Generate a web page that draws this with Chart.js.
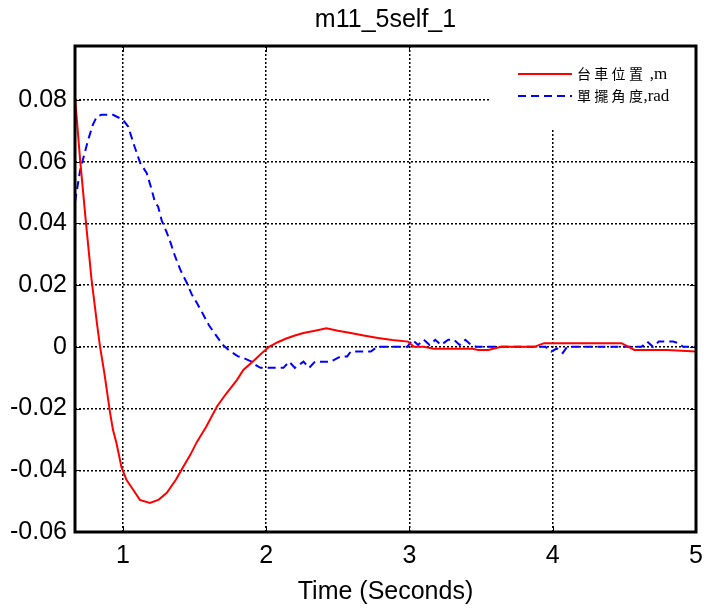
<!DOCTYPE html>
<html>
<head>
<meta charset="utf-8">
<script src="https://cdn.jsdelivr.net/npm/chart.js@4/dist/chart.umd.min.js"></script>
<style>
  html, body { margin: 0; padding: 0; background: #fff; }
  canvas { display: block; }
</style>
</head>
<body>
<canvas id="c" width="704" height="610"></canvas>
<script>
// ---- Data ----
const chartTitle = 'm11_5self_1';
const xAxisTitle = 'Time (Seconds)';
const seriesNames = ['台車位置 ,m', '單擺角度,rad'];

const xTicks = [1, 2, 3, 4, 5];
const yTicks = [-0.06, -0.04, -0.02, 0, 0.02, 0.04, 0.06, 0.08];
const yTickLabels = ['-0.06', '-0.04', '-0.02', '0', '0.02', '0.04', '0.06', '0.08'];

const timeRed = [0.665,0.70,0.74,0.78,0.82,0.84,0.87,0.91,0.93,0.954,0.989,1.024,1.071,1.118,1.188,1.25,1.306,1.37,1.42,1.47,1.516,1.58,1.656,1.72,1.796,1.84,1.92,1.97,2.02,2.08,2.14,2.20,2.26,2.34,2.42,2.50,2.59,2.68,2.78,2.88,2.99,3.03,3.10,3.17,3.30,3.44,3.48,3.55,3.64,3.87,3.94,4.10,4.30,4.48,4.57,4.80,5.00];
const cartPosition = [0.081,0.061,0.041,0.022,0.007,0.0,-0.0085,-0.0214,-0.0269,-0.0311,-0.0389,-0.0431,-0.0463,-0.0496,-0.0506,-0.0495,-0.0473,-0.043,-0.0389,-0.035,-0.0308,-0.026,-0.0193,-0.0152,-0.0107,-0.0075,-0.0042,-0.002,0.0,0.0015,0.0027,0.0037,0.0045,0.0052,0.0060,0.0052,0.0045,0.0037,0.0029,0.0022,0.0017,0.0,0.0,-0.0006,-0.0006,-0.0006,-0.001,-0.001,0.0,0.0,0.0012,0.0012,0.0012,0.0012,-0.001,-0.001,-0.0015];

const timeBlue = [0.665,0.70,0.72,0.756,0.79,0.817,0.85,0.93,1.0,1.036,1.08,1.12,1.166,1.20,1.224,1.245,1.27,1.306,1.33,1.364,1.40,1.446,1.48,1.516,1.56,1.60,1.656,1.70,1.75,1.80,1.84,1.87,1.90,1.93,1.96,2.12,2.16,2.20,2.26,2.30,2.34,2.45,2.52,2.565,2.59,2.73,2.775,2.985,3.02,3.06,3.10,3.14,3.18,3.22,3.27,3.31,3.35,3.39,3.43,3.47,3.50,3.95,3.99,4.03,4.07,4.10,4.62,4.66,4.70,4.74,4.78,4.84,4.88,4.91,5.0];
const pendulumAngle = [0.047,0.057,0.0606,0.067,0.072,0.0746,0.0752,0.0752,0.0736,0.0714,0.065,0.0596,0.0563,0.051,0.0467,0.0455,0.041,0.037,0.034,0.0293,0.025,0.0207,0.017,0.0142,0.0105,0.007,0.0033,0.0005,-0.0015,-0.003,-0.0036,-0.0042,-0.0048,-0.006,-0.0068,-0.0068,-0.0048,-0.0068,-0.0048,-0.0068,-0.0048,-0.0048,-0.0031,-0.0031,-0.0015,-0.0015,0.0,0.0,0.0023,0.0006,0.0023,0.0006,0.0023,0.0006,0.0023,0.0023,0.0006,0.0023,0.0006,0.0,0.0,0.0,-0.0015,-0.0005,-0.002,0.0,0.0,0.0017,0.0,0.0017,0.0017,0.0017,0.0012,0.0,0.0];

const xMin = 0.665, xMax = 5;
const yMin = -0.06, yMax = 0.0975;

// ---- Helpers ----
const toPoints = (xs, ys) => xs.map((x, i) => ({ x: x, y: ys[i] }));
const FONT = '"Liberation Sans", Arial, Helvetica, sans-serif';
const isCJK = ch => /[\u3000-\u9fff\uff00-\uffef]/.test(ch);

function drawLegendText(ctx, text, x, y) {
  let cx = x;
  const chars = Array.from(text);
  chars.forEach((ch, i) => {
    if (isCJK(ch)) {
      ctx.font = '14px "Noto Sans CJK TC", "Noto Sans CJK SC", sans-serif';
      ctx.fillText(ch, cx, y);
      const nextIsCJK = i + 1 < chars.length && isCJK(chars[i + 1]);
      cx += nextIsCJK ? 17.3 : 14.5;
    } else {
      ctx.font = '17px "Liberation Serif", "DejaVu Serif", serif';
      ctx.fillText(ch, cx, y + 1);
      cx += ctx.measureText(ch).width + (ch === ' ' ? 2 : 0);
    }
  });
}

const framePlugin = {
  id: 'matlabFrame',
  afterLayout(chart) {
    // centre the title over the plotting area, as in the reference
    const t = chart.titleBlock, a = chart.chartArea;
    if (t && a) { t.left = a.left; t.right = a.right; t.width = a.right - a.left; }
  },
  beforeDatasetsDraw(chart) {
    const { ctx, chartArea: a, scales } = chart;
    ctx.save();
    ctx.strokeStyle = '#000';
    ctx.lineWidth = 1;
    ctx.setLineDash([]);
    const L = 6;
    ctx.beginPath();
    xTicks.forEach(v => {
      const px = Math.round(scales.x.getPixelForValue(v)) + 0.5;
      ctx.moveTo(px, a.bottom); ctx.lineTo(px, a.bottom - L);
      ctx.moveTo(px, a.top); ctx.lineTo(px, a.top + L);
    });
    yTicks.forEach(v => {
      const py = Math.round(scales.y.getPixelForValue(v)) + 0.5;
      ctx.moveTo(a.left, py); ctx.lineTo(a.left + L, py);
      ctx.moveTo(a.right, py); ctx.lineTo(a.right - L, py);
    });
    ctx.stroke();
    ctx.restore();
  },
  afterDatasetsDraw(chart) {
    const { ctx, chartArea: a } = chart;
    ctx.save();
    // legend box (white, no border), top-right inside the axes
    const bx = 490, by = a.top + 1, bw = a.right - 1 - bx, bh = 128 - by;
    ctx.fillStyle = '#fff';
    ctx.fillRect(bx, by, bw, bh);
    const rows = [74, 96];
    chart.data.datasets.forEach((ds, i) => {
      ctx.strokeStyle = ds.borderColor;
      ctx.lineWidth = 2;
      ctx.setLineDash(ds.borderDash || []);
      ctx.beginPath();
      ctx.moveTo(518, rows[i]);
      ctx.lineTo(572, rows[i]);
      ctx.stroke();
      ctx.setLineDash([]);
      ctx.fillStyle = '#000';
      ctx.textBaseline = 'middle';
      ctx.textAlign = 'left';
      drawLegendText(ctx, ds.label, 577, rows[i]);
    });
    // axes frame
    ctx.strokeStyle = '#000';
    ctx.lineWidth = 3;
    ctx.setLineDash([]);
    ctx.strokeRect(a.left, a.top, a.right - a.left, a.bottom - a.top);
    ctx.restore();
  }
};

new Chart(document.getElementById('c'), {
  type: 'line',
  data: {
    datasets: [
      {
        label: seriesNames[0],
        data: toPoints(timeRed, cartPosition),
        borderColor: '#ff0000',
        backgroundColor: '#ff0000',
        borderWidth: 2,
        pointRadius: 0,
        tension: 0,
        fill: false
      },
      {
        label: seriesNames[1],
        data: toPoints(timeBlue, pendulumAngle),
        borderColor: '#0000ff',
        backgroundColor: '#0000ff',
        borderWidth: 2,
        borderDash: [8, 5],
        pointRadius: 0,
        tension: 0,
        fill: false
      }
    ]
  },
  options: {
    responsive: false,
    animation: false,
    layout: { padding: { left: 0, right: 8, top: 0, bottom: 0 } },
    plugins: {
      legend: { display: false },
      tooltip: { enabled: false },
      title: {
        display: true,
        text: chartTitle,
        color: '#000',
        font: { family: FONT, size: 25, weight: 'normal', lineHeight: 1.2 },
        padding: { top: 5, bottom: 11 }
      }
    },
    scales: {
      x: {
        type: 'linear',
        min: xMin,
        max: xMax,
        afterBuildTicks: s => { s.ticks = xTicks.map(v => ({ value: v })); },
        afterFit: s => { s.height = 78; s.paddingLeft = 0; s.paddingRight = 0; },
        ticks: {
          color: '#000',
          padding: 9,
          maxRotation: 0,
          autoSkip: false,
          font: { family: FONT, size: 25 },
          callback: v => String(v)
        },
        grid: { color: '#000', lineWidth: 1.5, drawTicks: false },
        border: { display: false, dash: [2, 2] },
        title: {
          display: true,
          text: xAxisTitle,
          color: '#000',
          font: { family: FONT, size: 25, lineHeight: 1.2 },
          padding: { top: 0, bottom: 3 }
        }
      },
      y: {
        type: 'linear',
        min: yMin,
        max: yMax,
        afterBuildTicks: s => { s.ticks = yTicks.map(v => ({ value: v })); },
        afterFit: s => { s.width = 75; s.paddingTop = 0; s.paddingBottom = 0; },
        ticks: {
          color: '#000',
          padding: 8,
          autoSkip: false,
          font: { family: FONT, size: 25 },
          callback: v => {
            const i = yTicks.findIndex(t => Math.abs(t - v) < 1e-9);
            return i >= 0 ? yTickLabels[i] : '';
          }
        },
        grid: { color: '#000', lineWidth: 1.5, drawTicks: false },
        border: { display: false, dash: [2, 2] }
      }
    }
  },
  plugins: [framePlugin]
});
</script>
</body>
</html>
